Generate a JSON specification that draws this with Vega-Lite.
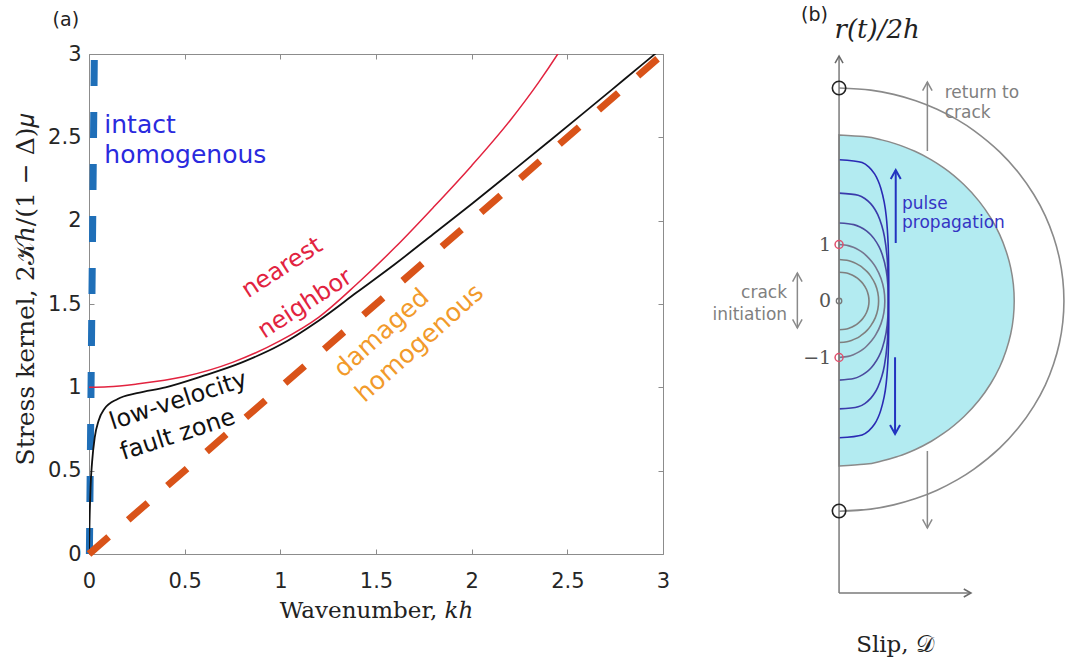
{
  "$schema": "https://vega.github.io/schema/vega-lite/v6.json",
  "background": "white",
  "padding": {"left": 12, "top": 6, "right": 0, "bottom": 0},
  "bounds": "flush",
  "spacing": 80,
  "config": {"view": {"stroke": null}, "axis": {"grid": false}},
  "datasets": {
    "red": [{"x":0,"y":1.0},{"x":0.1,"y":1.003},{"x":0.25,"y":1.02},{"x":0.5,"y":1.065},{"x":0.75,"y":1.15},{"x":1.0,"y":1.28},{"x":1.2,"y":1.42},{"x":1.4,"y":1.62},{"x":1.6,"y":1.84},{"x":1.8,"y":2.08},{"x":2.0,"y":2.33},{"x":2.2,"y":2.6},{"x":2.35,"y":2.83},{"x":2.45,"y":3.0},{"x":2.5,"y":3.09}],
    "black": [{"x":0,"y":0},{"x":0.003,"y":0.2},{"x":0.008,"y":0.4},{"x":0.016,"y":0.55},{"x":0.03,"y":0.7},{"x":0.05,"y":0.8},{"x":0.08,"y":0.87},{"x":0.15,"y":0.93},{"x":0.25,"y":0.965},{"x":0.4,"y":1.0},{"x":0.6,"y":1.07},{"x":0.8,"y":1.15},{"x":1.0,"y":1.255},{"x":1.2,"y":1.40},{"x":1.4,"y":1.57},{"x":1.6,"y":1.74},{"x":1.8,"y":1.92},{"x":2.0,"y":2.10},{"x":2.2,"y":2.285},{"x":2.4,"y":2.472},{"x":2.6,"y":2.66},{"x":2.8,"y":2.85},{"x":3.0,"y":3.04}],
    "cyan": [{"y":2.94,"x":0},{"y":2.911,"x":0.437},{"y":2.852,"x":0.753},{"y":2.764,"x":1.057},{"y":2.646,"x":1.352},{"y":2.499,"x":1.634},{"y":2.352,"x":1.86},{"y":2.058,"x":2.213},{"y":1.764,"x":2.48},{"y":1.47,"x":2.685},{"y":1.176,"x":2.843},{"y":0.882,"x":2.957},{"y":0.588,"x":3.038},{"y":0.294,"x":3.085},{"y":0,"x":3.1},{"y":-0.292,"x":3.085},{"y":-0.584,"x":3.038},{"y":-0.876,"x":2.957},{"y":-1.168,"x":2.843},{"y":-1.46,"x":2.685},{"y":-1.752,"x":2.48},{"y":-2.044,"x":2.213},{"y":-2.336,"x":1.86},{"y":-2.482,"x":1.634},{"y":-2.628,"x":1.352},{"y":-2.745,"x":1.057},{"y":-2.832,"x":0.753},{"y":-2.891,"x":0.437},{"y":-2.92,"x":0}],
    "curves": [
      {"c":"outer","o":0,"x":0,"y":3.77},{"c":"outer","o":1,"x":0.561,"y":3.732},{"c":"outer","o":2,"x":0.967,"y":3.657},{"c":"outer","o":3,"x":1.357,"y":3.544},{"c":"outer","o":4,"x":1.735,"y":3.393},{"c":"outer","o":5,"x":2.097,"y":3.205},{"c":"outer","o":6,"x":2.388,"y":3.016},{"c":"outer","o":7,"x":2.842,"y":2.639},{"c":"outer","o":8,"x":3.184,"y":2.262},{"c":"outer","o":9,"x":3.447,"y":1.885},{"c":"outer","o":10,"x":3.65,"y":1.508},{"c":"outer","o":11,"x":3.797,"y":1.131},{"c":"outer","o":12,"x":3.9,"y":0.754},{"c":"outer","o":13,"x":3.96,"y":0.377},{"c":"outer","o":14,"x":3.98,"y":0},{"c":"outer","o":15,"x":3.96,"y":-0.372},{"c":"outer","o":16,"x":3.9,"y":-0.744},{"c":"outer","o":17,"x":3.797,"y":-1.116},{"c":"outer","o":18,"x":3.65,"y":-1.488},{"c":"outer","o":19,"x":3.447,"y":-1.86},{"c":"outer","o":20,"x":3.184,"y":-2.232},{"c":"outer","o":21,"x":2.842,"y":-2.604},{"c":"outer","o":22,"x":2.388,"y":-2.976},{"c":"outer","o":23,"x":2.097,"y":-3.162},{"c":"outer","o":24,"x":1.735,"y":-3.348},{"c":"outer","o":25,"x":1.357,"y":-3.497},{"c":"outer","o":26,"x":0.967,"y":-3.608},{"c":"outer","o":27,"x":0.561,"y":-3.683},{"c":"outer","o":28,"x":0,"y":-3.72},
      {"c":"g1","o":0,"x":0,"y":0.51},{"c":"g1","o":1,"x":0.105,"y":0.5},{"c":"g1","o":2,"x":0.165,"y":0.485},{"c":"g1","o":3,"x":0.231,"y":0.459},{"c":"g1","o":4,"x":0.279,"y":0.434},{"c":"g1","o":5,"x":0.318,"y":0.408},{"c":"g1","o":6,"x":0.378,"y":0.357},{"c":"g1","o":7,"x":0.424,"y":0.306},{"c":"g1","o":8,"x":0.486,"y":0.204},{"c":"g1","o":9,"x":0.519,"y":0.102},{"c":"g1","o":10,"x":0.53,"y":0},{"c":"g1","o":11,"x":0.519,"y":-0.102},{"c":"g1","o":12,"x":0.486,"y":-0.204},{"c":"g1","o":13,"x":0.424,"y":-0.306},{"c":"g1","o":14,"x":0.378,"y":-0.357},{"c":"g1","o":15,"x":0.318,"y":-0.408},{"c":"g1","o":16,"x":0.279,"y":-0.434},{"c":"g1","o":17,"x":0.231,"y":-0.459},{"c":"g1","o":18,"x":0.165,"y":-0.485},{"c":"g1","o":19,"x":0.105,"y":-0.5},{"c":"g1","o":20,"x":0,"y":-0.51},
      {"c":"g2","o":0,"x":0,"y":0.735},{"c":"g2","o":1,"x":0.139,"y":0.72},{"c":"g2","o":2,"x":0.218,"y":0.698},{"c":"g2","o":3,"x":0.305,"y":0.662},{"c":"g2","o":4,"x":0.369,"y":0.625},{"c":"g2","o":5,"x":0.42,"y":0.588},{"c":"g2","o":6,"x":0.5,"y":0.515},{"c":"g2","o":7,"x":0.56,"y":0.441},{"c":"g2","o":8,"x":0.642,"y":0.294},{"c":"g2","o":9,"x":0.686,"y":0.147},{"c":"g2","o":10,"x":0.7,"y":0},{"c":"g2","o":11,"x":0.686,"y":-0.147},{"c":"g2","o":12,"x":0.642,"y":-0.294},{"c":"g2","o":13,"x":0.56,"y":-0.441},{"c":"g2","o":14,"x":0.5,"y":-0.515},{"c":"g2","o":15,"x":0.42,"y":-0.588},{"c":"g2","o":16,"x":0.369,"y":-0.625},{"c":"g2","o":17,"x":0.305,"y":-0.662},{"c":"g2","o":18,"x":0.218,"y":-0.698},{"c":"g2","o":19,"x":0.139,"y":-0.72},{"c":"g2","o":20,"x":0,"y":-0.735},
      {"c":"g3","o":0,"x":0,"y":1},{"c":"g3","o":1,"x":0.161,"y":0.98},{"c":"g3","o":2,"x":0.253,"y":0.95},{"c":"g3","o":3,"x":0.353,"y":0.9},{"c":"g3","o":4,"x":0.427,"y":0.85},{"c":"g3","o":5,"x":0.486,"y":0.8},{"c":"g3","o":6,"x":0.578,"y":0.7},{"c":"g3","o":7,"x":0.648,"y":0.6},{"c":"g3","o":8,"x":0.743,"y":0.4},{"c":"g3","o":9,"x":0.794,"y":0.2},{"c":"g3","o":10,"x":0.81,"y":0},{"c":"g3","o":11,"x":0.794,"y":-0.2},{"c":"g3","o":12,"x":0.743,"y":-0.4},{"c":"g3","o":13,"x":0.648,"y":-0.6},{"c":"g3","o":14,"x":0.578,"y":-0.7},{"c":"g3","o":15,"x":0.486,"y":-0.8},{"c":"g3","o":16,"x":0.427,"y":-0.85},{"c":"g3","o":17,"x":0.353,"y":-0.9},{"c":"g3","o":18,"x":0.253,"y":-0.95},{"c":"g3","o":19,"x":0.161,"y":-0.98},{"c":"g3","o":20,"x":0,"y":-1},
      {"c":"b1","o":0,"x":0,"y":1.38},{"c":"b1","o":1,"x":0.261,"y":1.352},{"c":"b1","o":2,"x":0.372,"y":1.311},{"c":"b1","o":3,"x":0.485,"y":1.242},{"c":"b1","o":4,"x":0.561,"y":1.173},{"c":"b1","o":5,"x":0.619,"y":1.104},{"c":"b1","o":6,"x":0.705,"y":0.966},{"c":"b1","o":7,"x":0.763,"y":0.828},{"c":"b1","o":8,"x":0.833,"y":0.552},{"c":"b1","o":9,"x":0.864,"y":0.276},{"c":"b1","o":10,"x":0.87,"y":0},{"c":"b1","o":11,"x":0.864,"y":-0.28},{"c":"b1","o":12,"x":0.833,"y":-0.56},{"c":"b1","o":13,"x":0.763,"y":-0.84},{"c":"b1","o":14,"x":0.705,"y":-0.98},{"c":"b1","o":15,"x":0.619,"y":-1.12},{"c":"b1","o":16,"x":0.561,"y":-1.19},{"c":"b1","o":17,"x":0.485,"y":-1.26},{"c":"b1","o":18,"x":0.372,"y":-1.33},{"c":"b1","o":19,"x":0.261,"y":-1.372},{"c":"b1","o":20,"x":0,"y":-1.4},
      {"c":"b2","o":0,"x":0,"y":1.91},{"c":"b2","o":1,"x":0.338,"y":1.872},{"c":"b2","o":2,"x":0.455,"y":1.815},{"c":"b2","o":3,"x":0.563,"y":1.719},{"c":"b2","o":4,"x":0.633,"y":1.624},{"c":"b2","o":5,"x":0.685,"y":1.528},{"c":"b2","o":6,"x":0.756,"y":1.337},{"c":"b2","o":7,"x":0.802,"y":1.146},{"c":"b2","o":8,"x":0.851,"y":0.764},{"c":"b2","o":9,"x":0.867,"y":0.382},{"c":"b2","o":10,"x":0.87,"y":0},{"c":"b2","o":11,"x":0.867,"y":-0.382},{"c":"b2","o":12,"x":0.851,"y":-0.764},{"c":"b2","o":13,"x":0.802,"y":-1.146},{"c":"b2","o":14,"x":0.756,"y":-1.337},{"c":"b2","o":15,"x":0.685,"y":-1.528},{"c":"b2","o":16,"x":0.633,"y":-1.624},{"c":"b2","o":17,"x":0.563,"y":-1.719},{"c":"b2","o":18,"x":0.455,"y":-1.815},{"c":"b2","o":19,"x":0.338,"y":-1.872},{"c":"b2","o":20,"x":0,"y":-1.91},
      {"c":"b3","o":0,"x":0,"y":2.5},{"c":"b3","o":1,"x":0.408,"y":2.45},{"c":"b3","o":2,"x":0.525,"y":2.375},{"c":"b3","o":3,"x":0.629,"y":2.25},{"c":"b3","o":4,"x":0.693,"y":2.125},{"c":"b3","o":5,"x":0.738,"y":2.0},{"c":"b3","o":6,"x":0.799,"y":1.75},{"c":"b3","o":7,"x":0.835,"y":1.5},{"c":"b3","o":8,"x":0.869,"y":1.0},{"c":"b3","o":9,"x":0.879,"y":0.5},{"c":"b3","o":10,"x":0.88,"y":0},{"c":"b3","o":11,"x":0.879,"y":-0.484},{"c":"b3","o":12,"x":0.869,"y":-0.968},{"c":"b3","o":13,"x":0.835,"y":-1.452},{"c":"b3","o":14,"x":0.799,"y":-1.694},{"c":"b3","o":15,"x":0.738,"y":-1.936},{"c":"b3","o":16,"x":0.693,"y":-2.057},{"c":"b3","o":17,"x":0.629,"y":-2.178},{"c":"b3","o":18,"x":0.525,"y":-2.299},{"c":"b3","o":19,"x":0.408,"y":-2.372},{"c":"b3","o":20,"x":0,"y":-2.42}
    ]
  },
  "hconcat": [
    {
      "width": 574,
      "height": 500,
      "layer": [
        {
          "data": {"values": [{"x":0.002,"y":0},{"x":0.028,"y":3}]},
          "mark": {"type":"line","color":"#1f6fb8","strokeWidth":7,"strokeDash":[26,26]},
          "encoding": {
            "x": {"field":"x","type":"quantitative","scale":{"domain":[0,3],"nice":false,"zero":false},
                  "axis":{"orient":"bottom","values":[0,0.5,1,1.5,2,2.5,3],"format":"~g","title":"Wavenumber, 𝑘ℎ","titleFont":"DejaVu Serif","titleFontSize":23,"titleFontWeight":"normal","titleColor":"#222222","titleY":63,"titleBaseline":"alphabetic","labelFont":"DejaVu Sans","labelFontSize":21,"labelColor":"#262626","labelPadding":21,"labelFlush":false,"tickSize":-5,"tickColor":"#8c8c8c","domainColor":"#8c8c8c","grid":false}},
            "y": {"field":"y","type":"quantitative","scale":{"domain":[0,3],"nice":false,"zero":false},
                  "axis":{"orient":"left","values":[0,0.5,1,1.5,2,2.5,3],"format":"~g","title":"Stress kernel, 2𝒦ℎ/(1 − Δ)𝜇","titleFont":"DejaVu Serif","titleFontSize":25,"titleFontWeight":"normal","titleColor":"#222222","titleX":-64,"titleY":235,"titleAngle":-90,"titleAlign":"center","titleBaseline":"middle","labelFont":"DejaVu Sans","labelFontSize":21,"labelColor":"#262626","labelPadding":13,"labelFlush":false,"tickSize":-5,"tickColor":"#8c8c8c","domainColor":"#8c8c8c","grid":false}}
          }
        },
        {
          "data": {"name": "black"},
          "mark": {"type":"line","color":"#111111","strokeWidth":1.8,"interpolate":"monotone","clip":true},
          "encoding": {
            "x": {"field":"x","type":"quantitative","axis":{"orient":"top","values":[0,0.5,1,1.5,2,2.5,3],"labels":false,"title":null,"tickSize":-5,"tickColor":"#8c8c8c","domainColor":"#8c8c8c","grid":false}},
            "y": {"field":"y","type":"quantitative","axis":{"orient":"right","values":[0,0.5,1,1.5,2,2.5,3],"labels":false,"title":null,"tickSize":-5,"tickColor":"#8c8c8c","domainColor":"#8c8c8c","grid":false}}
          }
        },
        {
          "data": {"name": "red"},
          "mark": {"type":"line","color":"#e2233f","strokeWidth":1.5,"interpolate":"monotone","clip":true},
          "encoding": {
            "x": {"field":"x","type":"quantitative","axis":null},
            "y": {"field":"y","type":"quantitative","axis":null}
          }
        },
        {
          "data": {"values": [{"x":0,"y":0},{"x":3,"y":3}]},
          "mark": {"type":"line","color":"#d95319","strokeWidth":7,"strokeDash":[26,26]},
          "encoding": {
            "x": {"field":"x","type":"quantitative","axis":null},
            "y": {"field":"y","type":"quantitative","axis":null}
          }
        },
        {
          "data": {"values": [{"t":"intact","x":0.08,"y":2.526},{"t":"homogenous","x":0.08,"y":2.346}]},
          "mark": {"type":"text","align":"left","baseline":"alphabetic","font":"DejaVu Sans","fontSize":25,"color":"#2a2ade"},
          "encoding": {
            "x": {"field":"x","type":"quantitative","axis":null},
            "y": {"field":"y","type":"quantitative","axis":null},
            "text": {"field":"t"}
          }
        },
        {
          "data": {"values": [{"t":"nearest","x":1.01,"y":1.716},{"t":"neighbor","x":1.13,"y":1.5}]},
          "mark": {"type":"text","align":"center","baseline":"middle","font":"DejaVu Sans","fontSize":24,"angle":-33,"color":"#e2233f"},
          "encoding": {
            "x": {"field":"x","type":"quantitative","axis":null},
            "y": {"field":"y","type":"quantitative","axis":null},
            "text": {"field":"t"}
          }
        },
        {
          "data": {"values": [{"t":"low-velocity","x":0.467,"y":0.918},{"t":"fault zone","x":0.464,"y":0.714}]},
          "mark": {"type":"text","align":"center","baseline":"middle","font":"DejaVu Sans","fontSize":24,"angle":-18,"color":"#111111"},
          "encoding": {
            "x": {"field":"x","type":"quantitative","axis":null},
            "y": {"field":"y","type":"quantitative","axis":null},
            "text": {"field":"t"}
          }
        },
        {
          "data": {"values": [{"t":"damaged","x":1.528,"y":1.326},{"t":"homogenous","x":1.727,"y":1.266}]},
          "mark": {"type":"text","align":"center","baseline":"middle","font":"DejaVu Sans","fontSize":25,"angle":-42,"color":"#f29a2b"},
          "encoding": {
            "x": {"field":"x","type":"quantitative","axis":null},
            "y": {"field":"y","type":"quantitative","axis":null},
            "text": {"field":"t"}
          }
        },
        {
          "data": {"values": [{"t":"(a)","x":-0.121,"y":3.203}]},
          "mark": {"type":"text","align":"center","baseline":"middle","font":"DejaVu Sans","fontSize":19,"color":"#222222"},
          "encoding": {
            "x": {"field":"x","type":"quantitative","axis":null},
            "y": {"field":"y","type":"quantitative","axis":null},
            "text": {"field":"t"}
          }
        }
      ]
    },
    {
      "width": 328,
      "height": 500,
      "layer": [
        {
          "data": {"name": "cyan"},
          "mark": {"type":"area","orient":"horizontal","interpolate":"monotone","fill":"#b3ebf1","fillOpacity":1,"stroke":"#8a8a8a","strokeWidth":1.5},
          "encoding": {
            "y": {"field":"y","type":"quantitative","scale":{"domain":[-4.478,4.372],"nice":false,"zero":false},"axis":null},
            "x": {"field":"x","type":"quantitative","scale":{"domain":[-1.7,4.105],"nice":false,"zero":false},"axis":null},
            "x2": {"datum":0}
          }
        },
        {
          "data": {"name": "curves"},
          "mark": {"type":"line","interpolate":"catmull-rom","strokeWidth":1.6},
          "encoding": {
            "x": {"field":"x","type":"quantitative","axis":null},
            "y": {"field":"y","type":"quantitative","axis":null},
            "order": {"field":"o","type":"quantitative"},
            "color": {"field":"c","type":"nominal","legend":null,"scale":{"domain":["outer","g1","g2","g3","b1","b2","b3"],"range":["#8a8a8a","#7f7f7f","#7f7f7f","#75758f","#4b4b9e","#3a3aab","#2a2ab4"]}}
          }
        },
        {
          "data": {"values": [{"x":0,"y":-5.168,"x2":0,"y2":4.33},{"x":0,"y":-5.168,"x2":2.33,"y2":-5.168}]},
          "mark": {"type":"rule","color":"#7a7a7a","strokeWidth":1.5},
          "encoding": {
            "x": {"field":"x","type":"quantitative","axis":null},
            "y": {"field":"y","type":"quantitative","axis":null},
            "x2": {"field":"x2"},
            "y2": {"field":"y2"}
          }
        },
        {
          "data": {"values": [{"x":1.563,"y":2.655,"x2":1.563,"y2":3.876},{"x":1.563,"y":-2.655,"x2":1.563,"y2":-4.018},{"x":-0.738,"y":0.496,"x2":-0.738,"y2":-0.478}]},
          "mark": {"type":"rule","color":"#8a8a8a","strokeWidth":1.5},
          "encoding": {
            "x": {"field":"x","type":"quantitative","axis":null},
            "y": {"field":"y","type":"quantitative","axis":null},
            "x2": {"field":"x2"},
            "y2": {"field":"y2"}
          }
        },
        {
          "data": {"values": [{"x":1.003,"y":1.027,"x2":1.003,"y2":2.319},{"x":0.991,"y":-0.996,"x2":0.991,"y2":-2.354}]},
          "mark": {"type":"rule","color":"#2233c0","strokeWidth":2},
          "encoding": {
            "x": {"field":"x","type":"quantitative","axis":null},
            "y": {"field":"y","type":"quantitative","axis":null},
            "x2": {"field":"x2"},
            "y2": {"field":"y2"}
          }
        },
        {
          "data": {"values": [{"x":1.563,"y":3.876},{"x":-0.738,"y":0.496}]},
          "mark": {"type":"point","shape":"M-1,1.8L0,0L1,1.8","filled":false,"color":"#8a8a8a","strokeWidth":1.5,"size":90,"opacity":1},
          "encoding": {
            "x": {"field":"x","type":"quantitative","axis":null},
            "y": {"field":"y","type":"quantitative","axis":null}
          }
        },
        {
          "data": {"values": [{"x":1.563,"y":-4.018},{"x":-0.738,"y":-0.478}]},
          "mark": {"type":"point","shape":"M-1,-1.8L0,0L1,-1.8","filled":false,"color":"#8a8a8a","strokeWidth":1.5,"size":90,"opacity":1},
          "encoding": {
            "x": {"field":"x","type":"quantitative","axis":null},
            "y": {"field":"y","type":"quantitative","axis":null}
          }
        },
        {
          "data": {"values": [{"x":0,"y":4.336}]},
          "mark": {"type":"point","shape":"M-1,1.8L0,0L1,1.8","filled":false,"color":"#6a6a6a","strokeWidth":1.5,"size":64,"opacity":1},
          "encoding": {
            "x": {"field":"x","type":"quantitative","axis":null},
            "y": {"field":"y","type":"quantitative","axis":null}
          }
        },
        {
          "data": {"values": [{"x":2.335,"y":-5.168}]},
          "mark": {"type":"point","shape":"M-1.8,-1L0,0L-1.8,1","filled":false,"color":"#6a6a6a","strokeWidth":1.5,"size":64,"opacity":1},
          "encoding": {
            "x": {"field":"x","type":"quantitative","axis":null},
            "y": {"field":"y","type":"quantitative","axis":null}
          }
        },
        {
          "data": {"values": [{"x":1.003,"y":2.319}]},
          "mark": {"type":"point","shape":"M-1,1.8L0,0L1,1.8","filled":false,"color":"#2233c0","strokeWidth":2,"size":100,"opacity":1},
          "encoding": {
            "x": {"field":"x","type":"quantitative","axis":null},
            "y": {"field":"y","type":"quantitative","axis":null}
          }
        },
        {
          "data": {"values": [{"x":0.991,"y":-2.354}]},
          "mark": {"type":"point","shape":"M-1,-1.8L0,0L1,-1.8","filled":false,"color":"#2233c0","strokeWidth":2,"size":100,"opacity":1},
          "encoding": {
            "x": {"field":"x","type":"quantitative","axis":null},
            "y": {"field":"y","type":"quantitative","axis":null}
          }
        },
        {
          "data": {"values": [{"x":0,"y":3.77},{"x":0,"y":-3.717}]},
          "mark": {"type":"point","shape":"circle","filled":false,"color":"#222222","strokeWidth":1.6,"size":180,"opacity":1},
          "encoding": {
            "x": {"field":"x","type":"quantitative","axis":null},
            "y": {"field":"y","type":"quantitative","axis":null}
          }
        },
        {
          "data": {"values": [{"x":0,"y":1},{"x":0,"y":-1}]},
          "mark": {"type":"point","shape":"circle","filled":false,"color":"#e0506e","strokeWidth":1.5,"size":64,"opacity":1},
          "encoding": {
            "x": {"field":"x","type":"quantitative","axis":null},
            "y": {"field":"y","type":"quantitative","axis":null}
          }
        },
        {
          "data": {"values": [{"x":0,"y":0}]},
          "mark": {"type":"point","shape":"circle","filled":false,"color":"#777777","strokeWidth":1.3,"size":30,"opacity":1},
          "encoding": {
            "x": {"field":"x","type":"quantitative","axis":null},
            "y": {"field":"y","type":"quantitative","axis":null}
          }
        },
        {
          "data": {"values": [{"t":"1","x":-0.14,"y":1.0},{"t":"0","x":-0.14,"y":0},{"t":"−1","x":-0.14,"y":-1.0}]},
          "mark": {"type":"text","align":"right","baseline":"middle","font":"DejaVu Serif","fontSize":19,"color":"#555555"},
          "encoding": {
            "x": {"field":"x","type":"quantitative","axis":null},
            "y": {"field":"y","type":"quantitative","axis":null},
            "text": {"field":"t"}
          }
        },
        {
          "data": {"values": [{"t":"(b)","x":-0.434,"y":5.062}]},
          "mark": {"type":"text","align":"center","baseline":"middle","font":"DejaVu Sans","fontSize":19,"color":"#222222"},
          "encoding": {
            "x": {"field":"x","type":"quantitative","axis":null},
            "y": {"field":"y","type":"quantitative","axis":null},
            "text": {"field":"t"}
          }
        },
        {
          "data": {"values": [{"t":"r(t)/2h","x":0.673,"y":4.8}]},
          "mark": {"type":"text","align":"center","baseline":"middle","font":"DejaVu Serif","fontStyle":"italic","fontSize":26,"color":"#222222"},
          "encoding": {
            "x": {"field":"x","type":"quantitative","axis":null},
            "y": {"field":"y","type":"quantitative","axis":null},
            "text": {"field":"t"}
          }
        },
        {
          "data": {"values": [{"t":"Slip, 𝒟","x":0.991,"y":-6.088}]},
          "mark": {"type":"text","align":"center","baseline":"middle","font":"DejaVu Serif","fontSize":23,"color":"#222222"},
          "encoding": {
            "x": {"field":"x","type":"quantitative","axis":null},
            "y": {"field":"y","type":"quantitative","axis":null},
            "text": {"field":"t"}
          }
        },
        {
          "data": {"values": [{"t":"return to","x":1.87,"y":3.593},{"t":"crack","x":1.87,"y":3.239}]},
          "mark": {"type":"text","align":"left","baseline":"alphabetic","font":"DejaVu Sans","fontSize":17,"color":"#808080"},
          "encoding": {
            "x": {"field":"x","type":"quantitative","axis":null},
            "y": {"field":"y","type":"quantitative","axis":null},
            "text": {"field":"t"}
          }
        },
        {
          "data": {"values": [{"t":"crack","x":-0.92,"y":0.053},{"t":"initiation","x":-0.92,"y":-0.336}]},
          "mark": {"type":"text","align":"right","baseline":"alphabetic","font":"DejaVu Sans","fontSize":17,"color":"#808080"},
          "encoding": {
            "x": {"field":"x","type":"quantitative","axis":null},
            "y": {"field":"y","type":"quantitative","axis":null},
            "text": {"field":"t"}
          }
        },
        {
          "data": {"values": [{"t":"pulse","x":1.115,"y":1.628},{"t":"propagation","x":1.115,"y":1.292}]},
          "mark": {"type":"text","align":"left","baseline":"alphabetic","font":"DejaVu Sans","fontSize":17,"color":"#3434c4"},
          "encoding": {
            "x": {"field":"x","type":"quantitative","axis":null},
            "y": {"field":"y","type":"quantitative","axis":null},
            "text": {"field":"t"}
          }
        }
      ]
    }
  ]
}
